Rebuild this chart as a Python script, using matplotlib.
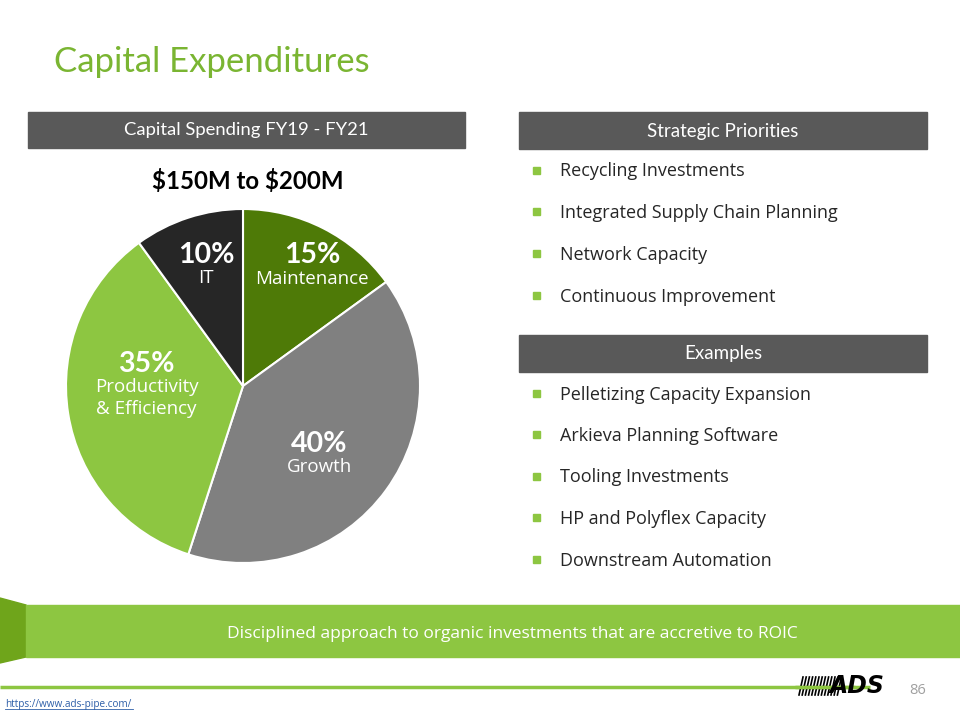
import matplotlib
import numpy as np
import matplotlib.pyplot as plt
from matplotlib.patches import Rectangle, Polygon

matplotlib.rcParams['font.family'] = ['Lato', 'DejaVu Sans']

# Dades del gràfic
segments = ['Maintenance', 'Growth', 'Productivity\n& Efficiency', 'IT']
percent = [15, 40, 35, 10]
colors = ['#4E7A07', '#808080', '#8DC641', '#262626']

priorities = ['Recycling Investments', 'Integrated Supply Chain Planning',
              'Network Capacity', 'Continuous Improvement']
examples = ['Pelletizing Capacity Expansion', 'Arkieva Planning Software',
            'Tooling Investments', 'HP and Polyflex Capacity',
            'Downstream Automation']

title = 'Capital Expenditures'
left_header = 'Capital Spending FY19 - FY21'
range_text = r'\$150M to \$200M'
banner = 'Disciplined approach to organic investments that are accretive to ROIC'

GREEN = '#8DC641'
HEAD = '#595959'

fig = plt.figure(figsize=(9.6, 7.2), dpi=100)

# Eix de fons en píxels
bg = fig.add_axes([0, 0, 1, 1])
bg.set_xlim(0, 960)
bg.set_ylim(720, 0)
bg.axis('off')

bg.text(54, 62, title, fontsize=25, color='#7AB532', va='center', ha='left')

# Capçaleres grises
bg.add_patch(Rectangle((28, 112), 437, 36, color=HEAD))
bg.text(246, 130, left_header, color='white', fontsize=13.3, ha='center', va='center')
bg.add_patch(Rectangle((519, 112), 408, 37, color=HEAD))
bg.text(723, 131, 'Strategic Priorities', color='white', fontsize=13.5,
        ha='center', va='center')
bg.add_patch(Rectangle((519, 335), 408, 37, color=HEAD))
bg.text(723, 354, 'Examples', color='white', fontsize=13.5, ha='center', va='center')

bg.text(248, 181, range_text, fontsize=17.3, fontweight='bold', color='black',
        ha='center', va='center')

# Llistes amb vinyetes
def bullets(items, y0, dy):
    for i, txt in enumerate(items):
        y = y0 + i * dy
        bg.add_patch(Rectangle((533, y - 3.5), 7, 7, color=GREEN))
        bg.text(560, y + 1.5, txt, fontsize=13, color='#262626', va='center',
                ha='left', family='Open Sans')

bullets(priorities, 170, 41.7)
bullets(examples, 393, 41.5)

# Banda verda inferior
bg.add_patch(Polygon([(0, 598), (26, 605), (26, 657), (0, 663)], color='#6FA51B'))
bg.add_patch(Rectangle((26, 605), 934, 52, color=GREEN))
bg.text(512, 634, banner, color='white', fontsize=12.5, ha='center', va='center',
        family='Open Sans')

# Línia i peu de pàgina
bg.plot([0, 870], [687, 687], color=GREEN, lw=2.5, solid_capstyle='butt')
bg.text(5, 704, 'https://www.ads-pipe.com/', fontsize=7.2, color='#2E5FA8',
        ha='left', va='center', family='Open Sans')
bg.plot([5, 133], [709, 709], color='#2E5FA8', lw=0.6)
bg.text(918, 690, '86', fontsize=10.5, color='#A0A0A0', ha='center', va='center',
        family='Open Sans')

# Logotip ADS aproximat
for x in np.arange(799, 838, 3.2):
    bg.plot([x, x + 4], [695, 677], color='black', lw=1.2)
bg.text(884, 686, 'ADS', fontsize=17, fontweight='black', color='black',
        ha='right', va='center', family='DejaVu Sans', style='italic')
bg.plot([795, 855], [687, 687], color=GREEN, lw=2.5, solid_capstyle='butt')

# Pastís
cx, cy, r = 243, 386, 177
pie_ax = fig.add_axes([(cx - r) / 960, (720 - cy - r) / 720, 2 * r / 960, 2 * r / 720])
wedges, _ = pie_ax.pie(percent, colors=colors, startangle=90, counterclock=False,
                       wedgeprops=dict(edgecolor='white', linewidth=1.5))
pie_ax.set_xlim(-1, 1)
pie_ax.set_ylim(-1, 1)
pie_ax.set_aspect('equal')

# Posició de les etiquetes: (radi, desplaçament angular)
label_pos = [(0.78, -3), (0.58, -6), (0.545, -9), (0.71, -1)]
for w, name, p, (rr, da) in zip(wedges, segments, percent, label_pos):
    ang = np.deg2rad((w.theta1 + w.theta2) / 2 + da)
    x, y = rr * np.cos(ang), rr * np.sin(ang)
    nlines = name.count('\n') + 1
    pie_ax.text(x, y + 0.062 * nlines, f'{p}%', fontsize=20.5, fontweight='bold',
                color='white', ha='center', va='center')
    pie_ax.text(x, y - 0.07, name, fontsize=13.5, color='white',
                ha='center', va='center', family='Open Sans', linespacing=1.3)

fig.savefig('out.png', dpi=100)
